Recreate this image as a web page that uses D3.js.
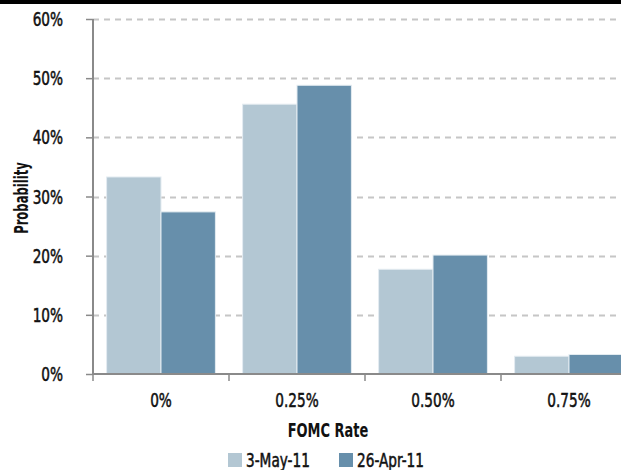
<!DOCTYPE html>
<html>
<head>
<meta charset="utf-8">
<script src="https://cdn.jsdelivr.net/npm/d3@7"></script>
<style>
  html, body { margin: 0; padding: 0; background: #fff; }
  svg { display: block; }
  text { font-family: "DejaVu Sans Condensed", "DejaVu Sans", sans-serif; font-stretch: condensed; fill: #111; }
</style>
</head>
<body>
<svg id="chart" width="621" height="470"></svg>
<script>
// FOMC rate probabilities, two survey dates
const categories = ["0%", "0.25%", "0.50%", "0.75%"];
const seriesNames = ["3-May-11", "26-Apr-11"];
const may3 = [0.333, 0.456, 0.177, 0.030];
const apr26 = [0.274, 0.488, 0.201, 0.033];
const yTicks = [0, 0.1, 0.2, 0.3, 0.4, 0.5, 0.6];

const colors = ["#b3c7d3", "#678fab"];
const seriesValues = [may3, apr26];

const svg = d3.select("#chart");
const W = 621, H = 470;
const margin = { left: 93, top: 19, bottom: 96 };
const bandW = 136;
const plotBottom = H - margin.bottom; // 374
const fontSize = 19;

// text helper: places a horizontally condensed label at (x, y)
function label(parent, x, y, str, opts = {}) {
  const sx = opts.squeeze || (opts.bold ? 0.76 : 0.8);
  const rot = opts.rotate ? ` rotate(${opts.rotate})` : "";
  const t = parent.append("text")
    .attr("transform", `translate(${x},${y})${rot} scale(${sx},1)`)
    .attr("text-anchor", opts.anchor || "start")
    .attr("font-size", fontSize)
    .attr("font-weight", opts.bold ? "bold" : "normal")
    .text(str);
  if (!opts.bold) t.attr("stroke", "#111").attr("stroke-width", 0.5);
  return t;
}

// top rule
svg.append("rect").attr("x", 0).attr("y", 0).attr("width", W).attr("height", 4).attr("fill", "#000");

const x = d3.scaleBand()
  .domain(categories)
  .range([margin.left, margin.left + bandW * categories.length])
  .paddingInner(0.2)
  .paddingOuter(0.1);

const x1 = d3.scaleBand().domain(seriesNames).range([0, x.bandwidth()]);

const y = d3.scaleLinear().domain([0, 0.6]).range([plotBottom, margin.top]);

// dashed gridlines
svg.append("g")
  .selectAll("line")
  .data(yTicks.filter(d => d > 0))
  .join("line")
  .attr("x1", margin.left).attr("x2", W)
  .attr("y1", d => Math.round(y(d)) + 0.5).attr("y2", d => Math.round(y(d)) + 0.5)
  .attr("stroke", "#c6c6c6")
  .attr("stroke-width", 2)
  .attr("stroke-dasharray", "6,5");

// bars
const groups = svg.append("g")
  .selectAll("g")
  .data(categories)
  .join("g")
  .attr("transform", d => `translate(${x(d)},0)`);

groups.selectAll("rect")
  .data((d, i) => seriesNames.map((s, j) => ({ s, v: seriesValues[j][i], j })))
  .join("rect")
  .attr("x", d => x1(d.s))
  .attr("y", d => y(d.v))
  .attr("width", x1.bandwidth())
  .attr("height", d => plotBottom - y(d.v))
  .attr("fill", d => colors[d.j])
  .attr("stroke", "#e4ecf1")
  .attr("stroke-width", 1);

// y axis: ticks from d3, labels drawn condensed
const yAxis = d3.axisLeft(y).tickValues(yTicks).tickSize(7).tickFormat("");
const gy = svg.append("g").attr("transform", `translate(${margin.left},0)`).call(yAxis);
gy.select(".domain").remove();
gy.selectAll(".tick line").attr("stroke", "#8a8a8a").attr("stroke-width", 1.5);
const fmt = d3.format(".0%");
const yLabels = svg.append("g");
yTicks.forEach(t => label(yLabels, 63, y(t) + 7, fmt(t), { anchor: "end" }));

svg.append("line")
  .attr("x1", margin.left).attr("x2", margin.left)
  .attr("y1", margin.top).attr("y2", plotBottom)
  .attr("stroke", "#8a8a8a").attr("stroke-width", 2);

// x axis
const xEdges = d3.range(categories.length + 1).map(i => margin.left + i * bandW);
svg.append("line")
  .attr("x1", margin.left).attr("x2", W)
  .attr("y1", plotBottom).attr("y2", plotBottom)
  .attr("stroke", "#8a8a8a").attr("stroke-width", 2);
svg.append("g").selectAll("line").data(xEdges).join("line")
  .attr("x1", d => d).attr("x2", d => d)
  .attr("y1", plotBottom).attr("y2", plotBottom + 7)
  .attr("stroke", "#8a8a8a").attr("stroke-width", 1.5);
const xLabels = svg.append("g");
categories.forEach(c => label(xLabels, x(c) + x.bandwidth() / 2, 407, c, { anchor: "middle" }));

// axis titles
label(svg, 328, 437, "FOMC Rate", { anchor: "middle", bold: true });
label(svg, 28, 198, "Probability", { anchor: "middle", bold: true, rotate: -90, squeeze: 0.68 });

// legend
const legendX = [228, 339];
seriesNames.forEach((s, i) => {
  const g = svg.append("g").attr("transform", `translate(${legendX[i]},453)`);
  g.append("rect").attr("width", 14).attr("height", 14).attr("fill", colors[i]);
  label(g, 18, 14, s);
});
</script>
</body>
</html>
